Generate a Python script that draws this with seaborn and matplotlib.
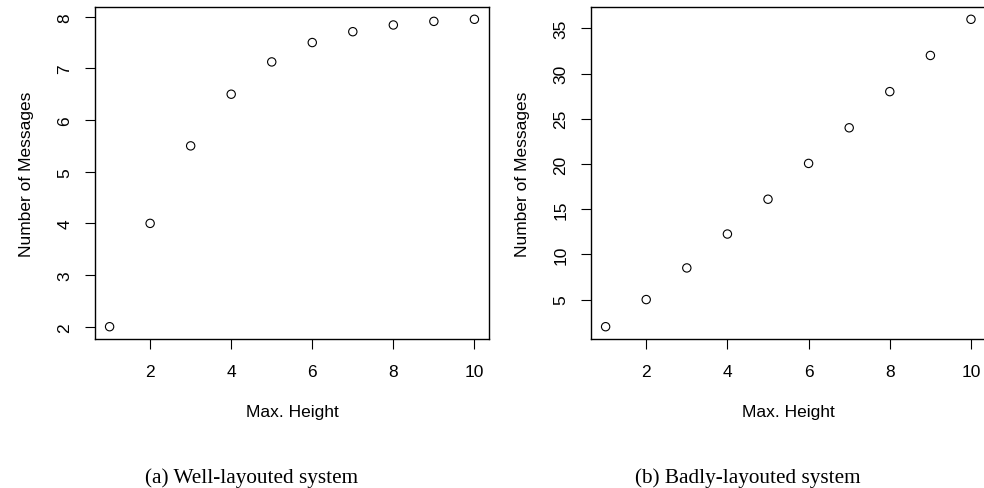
import numpy as np
import matplotlib
matplotlib.use("Agg")
import matplotlib.pyplot as plt
import matplotlib.ticker as mticker
import seaborn as sns

# values
max_height = [1, 2, 3, 4, 5, 6, 7, 8, 9, 10]
msgs_well = [2.0, 4.0, 5.5, 6.5, 7.125, 7.5, 7.71, 7.84, 7.91, 7.95]
msgs_bad = [2.0, 5.0, 8.5, 12.25, 16.1, 20.06, 24.0, 28.0, 32.0, 36.0]
captions = ["(a) Well-layouted system", "(b) Badly-layouted system"]
ytick_step = [1, 5]

sns.set_style("ticks")
plt.rcParams['font.family'] = ['Liberation Sans', 'DejaVu Sans']
plt.rcParams['text.color'] = 'black'
plt.rcParams['axes.labelcolor'] = 'black'

fig = plt.figure(figsize=(9.84, 4.89), dpi=100)
ax1 = fig.add_axes([95 / 984, 1 - 340 / 489, 394 / 984, 332 / 489])
ax2 = fig.add_axes([591 / 984, 1 - 340 / 489, 394.6 / 984, 332 / 489])

for ax, ys, step, cap, cx in zip([ax1, ax2], [msgs_well, msgs_bad], ytick_step,
                                 captions, [252, 748]):
    sns.scatterplot(x=max_height, y=ys, ax=ax, marker='o', s=36,
                    facecolor='none', edgecolor='black', linewidth=0.8)
    ax.margins(x=0.04, y=0.04)
    ax.xaxis.set_major_locator(mticker.MultipleLocator(2))
    ax.yaxis.set_major_locator(mticker.MultipleLocator(step))
    ax.tick_params(axis='both', direction='out', length=7.3, width=0.8,
                   color='black', labelsize=12.5, labelcolor='black')
    ax.tick_params(axis='x', pad=11)
    ax.tick_params(axis='y', pad=9)
    for lab in ax.get_yticklabels():
        lab.set_rotation(90)
        lab.set_va('center')
    for sp in ax.spines.values():
        sp.set_visible(True)
        sp.set_linewidth(1.0)
        sp.set_color('black')
    ax.set_xlabel("Max. Height", fontsize=12.5, color='black')
    ax.set_ylabel("Number of Messages", fontsize=12.5, color='black')
    ax.xaxis.set_label_coords(0.5, -0.195)
    ax.yaxis.set_label_coords(-0.155, 0.5)
    fig.text(cx / 984, 1 - 483 / 489, cap, ha='center', va='baseline',
             fontsize=15.3, color='black',
             family=['Liberation Serif', 'DejaVu Serif'])

fig.savefig("out.png", dpi=100)
